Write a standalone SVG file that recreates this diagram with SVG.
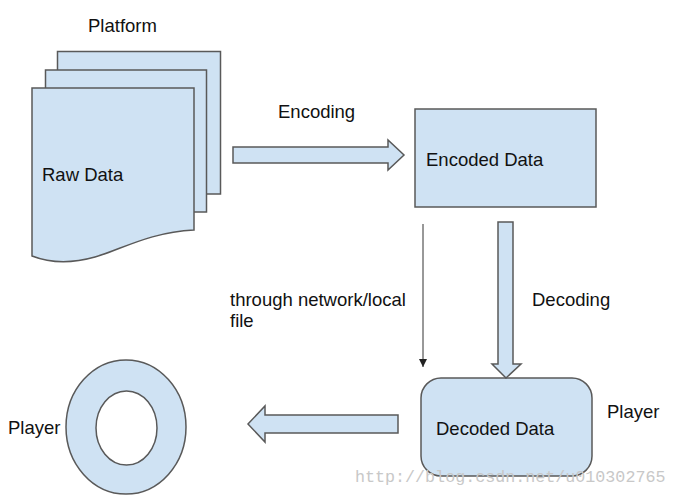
<svg xmlns="http://www.w3.org/2000/svg" width="676" height="497" viewBox="0 0 676 497">
<defs>
<style>
.shape{fill:#cfe2f3;stroke:#595959;stroke-width:1.5;stroke-linejoin:miter}
.lbl{font-family:"Liberation Sans",Arial,sans-serif;font-size:18.5px;fill:#111}
.wm{font-family:"Liberation Mono","DejaVu Sans Mono",monospace;font-size:16.7px;fill:#c8c8c8}
</style>
<marker id="ah" markerWidth="10" markerHeight="10" refX="8" refY="4" orient="auto" markerUnits="userSpaceOnUse">
<path d="M0,0 L8,4 L0,8 Z" fill="#222"/>
</marker>
</defs>
<rect width="676" height="497" fill="#ffffff"/>

<g id="raw-data">
<rect class="shape" x="57.5" y="51.5" width="163" height="142.5"/>
<rect class="shape" x="45.5" y="70" width="161" height="142"/>
<path class="shape" d="M32,88 H194 V230 C150,232 120,250 95,257 C70,264 50,263 32,256 Z"/>
<text class="lbl" x="42" y="181">Raw Data</text>
</g>
<text class="lbl" x="88" y="32">Platform</text>

<g id="encoded-data">
<rect class="shape" x="415" y="109" width="181" height="98"/>
<text class="lbl" x="426" y="166">Encoded Data</text>
</g>

<g id="decoded-data">
<rect class="shape" x="421" y="378" width="171" height="98" rx="20" ry="20"/>
<text class="lbl" x="436" y="435">Decoded Data</text>
</g>
<text class="lbl" x="607" y="418">Player</text>

<g id="player">
<path class="shape" fill-rule="evenodd" d="M66,427 A60,67 0 1 0 186,427 A60,67 0 1 0 66,427 Z M96,428 A30.5,37 0 1 0 157,428 A30.5,37 0 1 0 96,428 Z"/>
</g>
<text class="lbl" x="8" y="434">Player</text>

<g id="connectors">
<path class="shape" d="M233,147 H388 V140 L404,155 L388,170 V163 H233 Z"/>
<text class="lbl" x="278" y="118">Encoding</text>
<path class="shape" d="M498,222 H513 V364 H521 L506,378 L492,364 H498 Z"/>
<text class="lbl" x="532" y="306">Decoding</text>
<line x1="423" y1="224" x2="423" y2="367" stroke="#333" stroke-width="1" marker-end="url(#ah)"/>
<text class="lbl" x="230" y="306">through network/local</text>
<text class="lbl" x="230" y="327">file</text>
<path class="shape" d="M398,415 H265 V406 L248,424 L265,442 V433 H398 Z"/>
</g>

<text class="wm" x="355" y="482">http://blog.csdn.net/u010302765</text>
</svg>
